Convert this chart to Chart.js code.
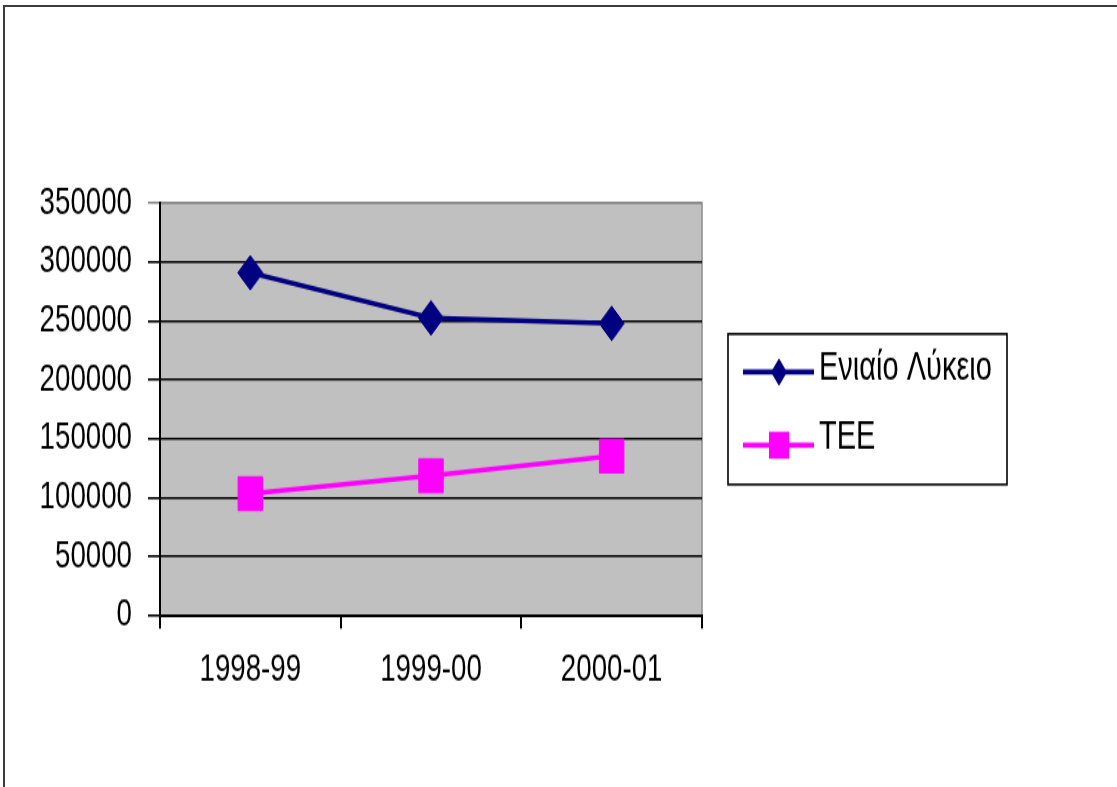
<!DOCTYPE html>
<html>
<head>
<meta charset="utf-8">
<script src="https://cdn.jsdelivr.net/npm/chart.js@4"></script>
<style>
  html, body { margin: 0; padding: 0; background: #fff; overflow: hidden; }
  #wrap { position: relative; width: 1117px; height: 787px; }
  #frame {
    position: absolute; left: 3px; top: 5px; width: 1200px; height: 900px;
    border-left: 2px solid #3c3c3c; border-top: 2px solid #3c3c3c;
  }
  /* the original picture is stretched vertically, so the chart is too */
  #myChart {
    position: absolute; left: 0; top: 0;
    transform-origin: 0 0;
    transform: scale(1, 1.3807);
  }
</style>
</head>
<body>
<div id="wrap">
  <div id="frame"></div>
  <canvas id="myChart" width="1117" height="570"></canvas>
</div>
<script>
const years = ["1998-99", "1999-00", "2000-01"];
const lykeio = [290800, 252500, 247800];
const tee = [103400, 118600, 135300];
const seriesNames = ["Ενιαίο Λύκειο", "TEE"];
const yTicks = [0, 50000, 100000, 150000, 200000, 250000, 300000, 350000];

const FONT = '"Liberation Sans", Arial, sans-serif';
const NAVY = "#000080";
const PINK = "#ff00ff";

// gray plot area behind the lines
const plotBg = {
  id: "plotBg",
  beforeDraw(chart) {
    const a = chart.chartArea;
    const ctx = chart.ctx;
    ctx.save();
    ctx.fillStyle = "#c0c0c0";
    ctx.fillRect(a.left, a.top, a.right - a.left, a.bottom - a.top);
    ctx.strokeStyle = "#8a8a8a";
    ctx.lineWidth = 1.5;
    ctx.beginPath();
    ctx.moveTo(a.left, a.top);
    ctx.lineTo(a.right, a.top);
    ctx.lineTo(a.right, a.bottom);
    ctx.stroke();
    ctx.restore();
  },
};

// boxed legend on the right, line with marker in the middle
const boxLegend = {
  id: "boxLegend",
  afterDraw(chart) {
    const a = chart.chartArea;
    const ctx = chart.ctx;
    const w = 279, h = 109;
    const x = a.right + 26;
    const y = (a.top + a.bottom) / 2 - h / 2;
    ctx.save();
    ctx.fillStyle = "#fff";
    ctx.fillRect(x, y, w, h);
    ctx.strokeStyle = "#000";
    ctx.lineWidth = 1.6;
    ctx.strokeRect(x, y, w, h);

    const rows = [
      { dy: 27.5, color: NAVY, marker: "diamond", textDy: -2 },
      { dy: 80.5, color: PINK, marker: "square", textDy: -5 },
    ];
    ctx.font = "29px " + FONT;
    ctx.textBaseline = "middle";
    rows.forEach((r, i) => {
      const ly = y + r.dy;
      const mx = x + 51;
      ctx.strokeStyle = r.color;
      ctx.lineWidth = 3.6;
      ctx.beginPath();
      ctx.moveTo(x + 15, ly);
      ctx.lineTo(x + 86, ly);
      ctx.stroke();
      ctx.fillStyle = r.color;
      ctx.beginPath();
      if (r.marker === "diamond") {
        ctx.moveTo(mx, ly - 10);
        ctx.lineTo(mx + 8, ly);
        ctx.lineTo(mx, ly + 10);
        ctx.lineTo(mx - 8, ly);
        ctx.closePath();
      } else {
        ctx.rect(mx - 10, ly - 9.8, 20, 19.6);
      }
      ctx.fill();
      ctx.fillStyle = "#000";
      ctx.fillText(chart.data.datasets[i].label, x + 91, ly + r.textDy);
    });
    ctx.restore();
  },
};

const ctx = document.getElementById("myChart").getContext("2d");

new Chart(ctx, {
  type: "line",
  data: {
    labels: years,
    datasets: [
      {
        label: seriesNames[0],
        data: lykeio,
        borderColor: NAVY,
        backgroundColor: NAVY,
        borderWidth: 3.5,
        pointStyle: "rectRot",
        pointRadius: 12.5,
        pointBorderWidth: 1,
        tension: 0,
      },
      {
        label: seriesNames[1],
        data: tee,
        borderColor: PINK,
        backgroundColor: PINK,
        borderWidth: 3.5,
        pointStyle: "rect",
        pointRadius: 17.3,
        pointBorderWidth: 1,
        tension: 0,
      },
    ],
  },
  options: {
    responsive: false,
    animation: false,
    layout: {
      padding: { left: 0, top: 147, right: 415, bottom: 0 },
    },
    plugins: {
      legend: { display: false },
      tooltip: { enabled: false },
    },
    scales: {
      x: {
        offset: true,
        grid: {
          offset: true,
          drawOnChartArea: false,
          drawTicks: true,
          tickLength: 9.5,
          color: "#000",
          lineWidth: 2,
        },
        border: { color: "#000", width: 2 },
        ticks: {
          color: "#000",
          font: { family: FONT, size: 27.7 },
          padding: 13,
        },
        afterFit(scale) {
          scale.height = 124.2;
        },
      },
      y: {
        min: 0,
        max: 350000,
        afterBuildTicks(scale) {
          scale.ticks = yTicks.map((v) => ({ value: v }));
        },
        grid: {
          color: (c) => (c.tick && c.tick.value === 350000 ? "#8a8a8a" : "#000"),
          lineWidth: 1.6,
          tickLength: 12,
        },
        border: { color: "#000", width: 2 },
        ticks: {
          color: "#000",
          font: { family: FONT, size: 27.7 },
          padding: 16,
          callback: (v) => String(v),
        },
        afterFit(scale) {
          scale.width = 160;
        },
      },
    },
  },
  plugins: [plotBg, boxLegend],
});
</script>
</body>
</html>
